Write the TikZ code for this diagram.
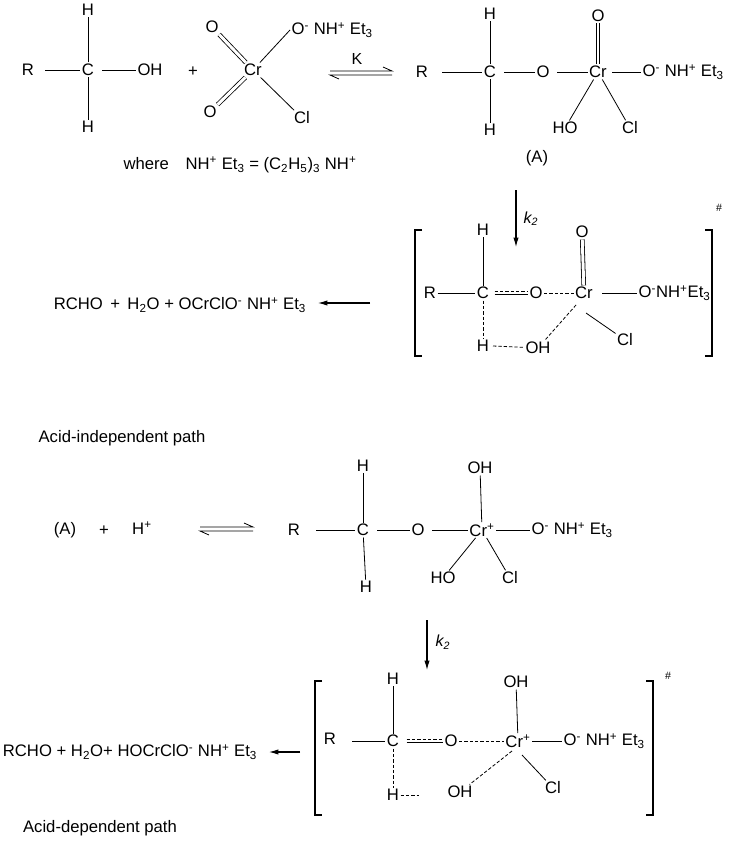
\documentclass[tikz,border=0pt]{standalone}
\usepackage{fontspec}
\setmainfont{Liberation Sans}
\usetikzlibrary{arrows.meta}
\tikzset{
  atom/.style={inner sep=1pt,font=\fontsize{12.5}{14}\selectfont},
  bond/.style={line width=0.6pt},
  dbond/.style={line width=0.6pt,double,double distance=2.2pt},
  wbond/.style={line width=0.6pt,dashed,dash pattern=on 2.5pt off 1.5pt},
  rxn/.style={line width=0.8pt,-{Latex[length=7pt,width=4pt]}},
  brk/.style={line width=0.8pt}
}
\newcommand{\up}[1]{\textsuperscript{#1}}
\newcommand{\dn}[1]{\textsubscript{#1}}
\newcommand{\eqarrow}[3]{%
  \draw[line width=0.6pt] (#1,#3-2) -- (#2,#3-2) -- ++(-9,-4);
  \draw[line width=0.6pt] (#2,#3+2) -- (#1,#3+2) -- ++(9,4);}
\begin{document}
\begin{tikzpicture}[x=0.75pt,y=-0.75pt]
\useasboundingbox (0,0) rectangle (729,842);
% alcohol + reagent
\node[atom] (r1) at (28,70) {R};
\node[atom] (c1) at (88,70) {C};
\node[atom] (oh1) at (150,70) {OH};
\node[atom] (h1a) at (88,10) {H};
\node[atom] (h1b) at (88,127) {H};
\draw[bond] (r1) ++(17,0) -- (c1);
\draw[bond] (c1) ++(14,0) -- (oh1);
\draw[bond] (c1) -- (h1a);
\draw[bond] (c1) -- (h1b);
\node[atom] at (193,72) {+};
\node[atom] (cr1) at (253,70) {Cr};
\node[atom] (o1a) at (212,27) {O};
\node[atom] (o1b) at (210,112) {O};
\node[atom,anchor=west] (o1c) at (290,30) {O\up{-} NH\up{+} Et\dn{3}};
\node[atom] (cl1) at (302,118) {Cl};
\draw[dbond] (cr1) -- (o1a);
\draw[dbond] (cr1) -- (o1b);
\draw[bond] (cr1) -- (o1c.west);
\draw[bond] (cr1) -- (cl1);
\eqarrow{330}{392}{73}
\node[atom,font=\fontsize{12}{14}\selectfont\rmfamily] at (357,59) {K};
\node[atom] at (240,165) {where\quad NH\up{+} Et\dn{3} = (C\dn{2}H\dn{5})\dn{3} NH\up{+}};
% intermediate (A)
\node[atom] (r2) at (422,72) {R};
\node[atom] (c2) at (490,72) {C};
\node[atom] (o2) at (543,72) {O};
\node[atom] (cr2) at (598,72) {Cr};
\node[atom,anchor=west] (o2c) at (641,72) {O\up{-} NH\up{+} Et\dn{3}};
\node[atom] (o2a) at (598,16) {O};
\node[atom] (h2a) at (490,14) {H};
\node[atom] (h2b) at (490,130) {H};
\node[atom] (ho2) at (565,128) {HO};
\node[atom] (cl2) at (630,128) {Cl};
\node[atom] at (537,158) {(A)};
\draw[bond] (r2) ++(20,0) -- (c2);
\draw[bond] (c2) ++(14,0) -- (o2);
\draw[bond] (o2) ++(14,0) -- (cr2);
\draw[bond] (cr2) ++(14,0) -- (o2c.west);
\draw[dbond] (cr2) -- (o2a);
\draw[bond] (c2) -- (h2a);
\draw[bond] (c2) -- (h2b);
\draw[bond] (cr2) -- (ho2);
\draw[bond] (cr2) -- (cl2);
% transition state 1
\coordinate (k1a) at (516,190);
\coordinate (k1b) at (516,247);
\draw[rxn] (k1a) -- (k1b);
\node[atom,font=\fontsize{12}{14}\selectfont\rmfamily\itshape] at (531,219) {k\dn{2}};
\draw[brk] (422,230) -- (415,230) -- (415,356) -- (422,356);
\draw[brk] (705,230) -- (712,230) -- (712,356) -- (705,356);
\node[atom,font=\fontsize{8}{9}\selectfont] at (719,208) {\#};
\node[atom] (r3) at (430,293) {R};
\node[atom] (c3) at (483,293) {C};
\node[atom] (o3) at (536,293) {O};
\node[atom] (cr3) at (584,293) {Cr};
\node[atom] (o3a) at (582,232) {O};
\node[atom,anchor=west] (o3c) at (637,293) {O\up{-}NH\up{+}Et\dn{3}};
\node[atom] (h3a) at (483,230) {H};
\node[atom] (h3b) at (483,346) {H};
\node[atom] (oh3) at (538,348) {OH};
\node[atom] (cl3) at (625,340) {Cl};
\draw[bond] (r3) -- (c3);
\draw[bond] ([yshift=-1.3pt]c3.east) ++(4,0) -- ([yshift=-1.3pt]o3.west);
\draw[wbond] ([yshift=1.3pt]c3.east) ++(4,0) -- ([yshift=1.3pt]o3.west);
\draw[wbond] (o3) -- (cr3);
\draw[bond] (cr3) ++(18,0) -- (o3c.west);
\draw[dbond] (cr3) -- (o3a);
\draw[bond] (c3) -- (h3a);
\draw[wbond] (c3) -- (h3b);
\draw[wbond] (h3b) ++(10,0) -- (oh3);
\draw[wbond] (cr3) ++(-8,12) -- (oh3);
\draw[bond] (cr3) ++(2,20) -- (cl3);
\coordinate (p1a) at (370,303);
\coordinate (p1b) at (318,303);
\draw[rxn] (p1a) -- (p1b);
\node[atom] at (180,305) {RCHO\, + \,H\dn{2}O + OCrClO\up{-} NH\up{+} Et\dn{3}};
\node[atom] at (122,438) {Acid-independent path};
% acid-dependent path
\node[atom] at (65,530) {(A)};
\node[atom] at (104,531) {+};
\node[atom] at (142,528) {H\up{+}};
\eqarrow{200}{253}{529}
\node[atom] (r4) at (294,530) {R};
\node[atom] (c4) at (363,530) {C};
\node[atom] (o4) at (418,530) {O};
\node[atom] (cr4) at (482,530) {Cr\up{+}};
\node[atom] (oh4a) at (480,468) {OH};
\node[atom,anchor=west] (o4c) at (530,530) {O\up{-} NH\up{+} Et\dn{3}};
\node[atom] (h4a) at (363,466) {H};
\node[atom] (h4b) at (366,587) {H};
\node[atom] (ho4) at (443,578) {HO};
\node[atom] (cl4) at (510,578) {Cl};
\draw[bond] (r4) ++(22,0) -- (c4);
\draw[bond] (c4) ++(14,0) -- (o4);
\draw[bond] (o4) ++(14,0) -- (cr4);
\draw[bond] (cr4) -- (o4c.west);
\draw[bond] (cr4) -- (oh4a);
\draw[bond] (c4) -- (h4a);
\draw[bond] (c4) -- (h4b);
\draw[bond] (cr4) -- (ho4);
\draw[bond] (cr4) -- (cl4);
% transition state 2
\coordinate (k2a) at (427,620);
\coordinate (k2b) at (427,670);
\draw[rxn] (k2a) -- (k2b);
\node[atom,font=\fontsize{12}{14}\selectfont\rmfamily\itshape] at (443,642) {k\dn{2}};
\draw[brk] (322,681) -- (315,681) -- (315,815) -- (322,815);
\draw[brk] (646,681) -- (653,681) -- (653,815) -- (646,815);
\node[atom,font=\fontsize{8}{9}\selectfont] at (668,676) {\#};
\node[atom] (r5) at (330,739) {R};
\node[atom] (c5) at (393,741) {C};
\node[atom] (o5) at (451,741) {O};
\node[atom] (cr5) at (518,741) {Cr\up{+}};
\node[atom] (oh5a) at (516,682) {OH};
\node[atom,anchor=west] (o5c) at (562,741) {O\up{-} NH\up{+} Et\dn{3}};
\node[atom] (h5a) at (393,679) {H};
\node[atom] (h5b) at (393,795) {H};
\node[atom] (oh5) at (460,792) {OH};
\node[atom] (cl5) at (553,788) {Cl};
\draw[bond] (r5) ++(22,2) -- (c5);
\draw[bond] ([yshift=-1.3pt]c5.east) ++(6,0) -- ([yshift=-1.3pt]o5.west);
\draw[wbond] ([yshift=1.3pt]c5.east) ++(6,0) -- ([yshift=1.3pt]o5.west);
\draw[wbond] (o5) -- (cr5);
\draw[bond] (cr5) -- (o5c.west);
\draw[bond] (cr5) -- (oh5a);
\draw[bond] (c5) -- (h5a);
\draw[wbond] (c5) -- (h5b);
\draw[wbond] (h5b) -- ++(26,0);
\draw[wbond] (cr5) ++(-6,10) -- (oh5);
\draw[bond] (cr5) ++(4,14) -- (cl5);
\coordinate (p2a) at (300,752);
\coordinate (p2b) at (269,752);
\draw[rxn] (p2a) -- (p2b);
\node[atom] at (130,752) {RCHO + H\dn{2}O+ HOCrClO\up{-} NH\up{+} Et\dn{3}};
\node[atom] at (100,828) {Acid-dependent path};
\end{tikzpicture}
\end{document}
